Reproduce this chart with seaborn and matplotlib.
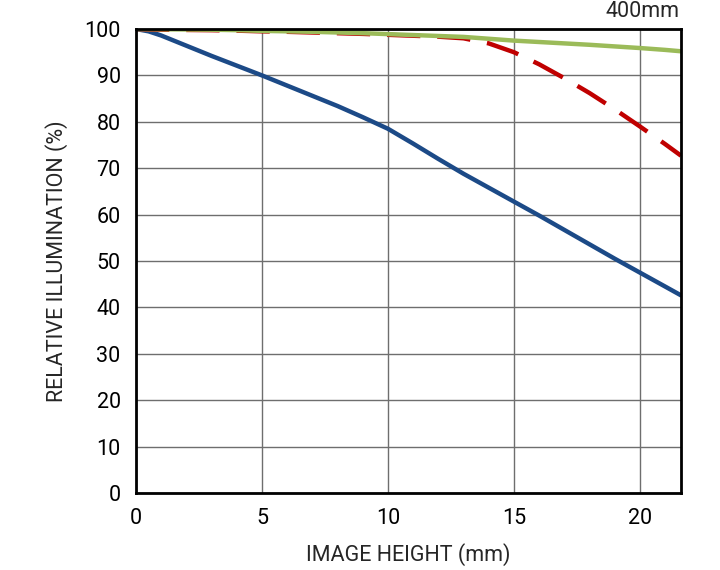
import seaborn as sns
import matplotlib.pyplot as plt

# image height (mm) and relative illumination (%)
x_pos = [0, 0.5, 1, 2, 3, 4, 5, 6, 7, 8, 9, 10, 11, 12, 13, 14, 15, 16, 17, 18, 19, 20, 21, 21.63]
blue = [100, 99.5, 98.6, 96.4, 94.2, 92.1, 90, 87.8, 85.6, 83.4, 81.0, 78.5, 75.3, 72.0, 68.8, 65.8, 62.8,
        59.8, 56.7, 53.6, 50.5, 47.5, 44.5, 42.6]
red = [100, 99.9, 99.85, 99.8, 99.75, 99.65, 99.5, 99.4, 99.25, 99.1, 98.95, 98.75, 98.55, 98.35, 98.0, 96.9,
       95.0, 92.4, 89.4, 86.2, 82.7, 79.0, 75.2, 72.7]
green = [100, 99.97, 99.95, 99.9, 99.85, 99.75, 99.6, 99.5, 99.4, 99.25, 99.1, 98.9, 98.7, 98.5, 98.3, 97.9,
         97.5, 97.2, 96.9, 96.6, 96.25, 95.9, 95.5, 95.2]

x_ticks = [0, 5, 10, 15, 20]
y_ticks = [0, 10, 20, 30, 40, 50, 60, 70, 80, 90, 100]

sns.set_style("white")
plt.rcParams['font.family'] = ['Roboto', 'DejaVu Sans']

fig = plt.figure(figsize=(7.2, 5.7), dpi=100)
ax = fig.add_axes([0.1889, 0.1351, 0.7569, 0.814])

sns.lineplot(x=x_pos, y=blue, ax=ax, color="#1c4a87", linewidth=3.2)
sns.lineplot(x=x_pos, y=red, ax=ax, color="#c00000", linewidth=3.2)
ax.lines[-1].set_dashes((7.5, 3.8))
sns.lineplot(x=x_pos, y=green, ax=ax, color="#9bbb59", linewidth=3.2)

ax.set_xlim(0, 21.63)
ax.set_ylim(0, 100)
ax.set_xticks(x_ticks)
ax.set_yticks(y_ticks)
ax.grid(True, color="#6e6e6e", linewidth=1.0)
ax.set_axisbelow(True)
for s in ax.spines.values():
    s.set_color("black")
    s.set_linewidth(2)
ax.tick_params(axis="both", length=0, labelsize=15.5, colors="black")
ax.tick_params(axis="x", pad=11)
ax.tick_params(axis="y", pad=11)

ax.set_xlabel("IMAGE HEIGHT (mm)", fontsize=15.5, labelpad=10)
ax.set_ylabel("RELATIVE ILLUMINATION (%)", fontsize=15.5, labelpad=12)
fig.text(0.944, 0.998, "400mm", ha="right", va="top", fontsize=15.5)

fig.savefig("out.png", dpi=100)
